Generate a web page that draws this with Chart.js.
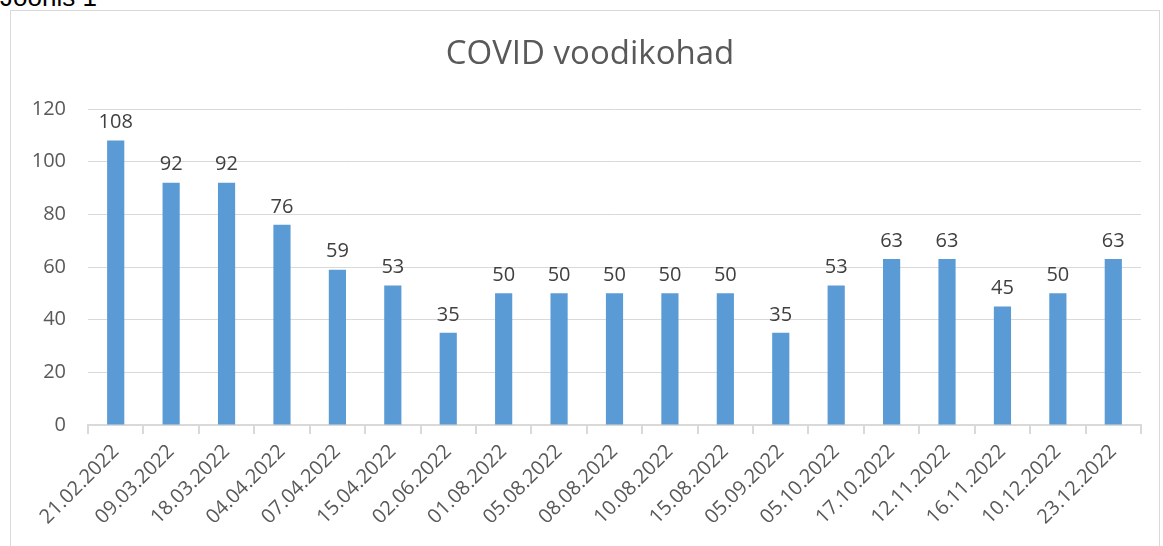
<!DOCTYPE html>
<html>
<head>
	<meta charset="UTF-8">
	<script src="https://cdn.jsdelivr.net/npm/chart.js@4.4.0/dist/chart.umd.min.js"></script>
	<style>
		body { margin: 0; background: #fff; overflow: hidden; }
		#caption { position: absolute; left: 0; top: -18px; font: 26px "Liberation Sans", Arial, sans-serif; color: #000; }
		#box { position: absolute; left: 10px; top: 10px; width: 1150px; height: 560px; border: 1px solid #d9d9d9; box-sizing: border-box; }
		#wrap { position: absolute; left: 11px; top: 11px; width: 1148px; height: 535px; }
	</style>
</head>
<body>
	<div id="caption">Joonis 1</div>
	<div id="box"></div>
	<div id="wrap"><canvas id="bedChart"></canvas></div>
	<script>
		var dates = ['21.02.2022', '09.03.2022', '18.03.2022', '04.04.2022', '07.04.2022', '15.04.2022',
			'02.06.2022', '01.08.2022', '05.08.2022', '08.08.2022', '10.08.2022', '15.08.2022',
			'05.09.2022', '05.10.2022', '17.10.2022', '12.11.2022', '16.11.2022', '10.12.2022', '23.12.2022'];
		var beds = [108, 92, 92, 76, 59, 53, 35, 50, 50, 50, 50, 50, 35, 53, 63, 63, 45, 50, 63];
		var yTicks = [0, 20, 40, 60, 80, 100, 120];
		var chartTitle = 'COVID voodikohad';

		var fontName = '"Open Sans", "Noto Sans", sans-serif';

		// numbers above the bars + title (Excel puts it a bit right of centre)
		var valueLabels = {
			id: 'valueLabels',
			afterDatasetsDraw: function (chart) {
				var ctx = chart.ctx;
				var meta = chart.getDatasetMeta(0);
				ctx.save();
				ctx.font = '20px ' + fontName;
				ctx.fillStyle = '#404040';
				ctx.textAlign = 'center';
				ctx.textBaseline = 'bottom';
				meta.data.forEach(function (bar, i) {
					ctx.fillText(String(beds[i]), bar.x, bar.y - 8);
				});

				ctx.font = '33px ' + fontName;
				ctx.fillStyle = '#595959';
				ctx.textBaseline = 'middle';
				ctx.fillText(chartTitle, chart.width / 2 + 5, 44);
				ctx.restore();
			}
		};

		new Chart(document.getElementById('bedChart'), {
			type: 'bar',
			data: {
				labels: dates,
				datasets: [{
					data: beds,
					backgroundColor: '#5b9bd5',
					borderWidth: 0,
					barPercentage: 0.31,
					categoryPercentage: 1
				}]
			},
			options: {
				responsive: true,
				maintainAspectRatio: false,
				animation: false,
				layout: { padding: { left: 0, right: 18, top: 98, bottom: 0 } },
				plugins: {
					legend: { display: false },
					tooltip: { enabled: false },
					title: { display: false }
				},
				scales: {
					x: {
						offset: true,
						grid: {
							offset: true,
							drawOnChartArea: false,
							drawTicks: true,
							tickLength: 9,
							color: '#d9d9d9',
							lineWidth: 2
						},
						border: { color: '#d9d9d9', width: 2 },
						ticks: {
							color: '#595959',
							font: { family: fontName, size: 20 },
							minRotation: 45,
							maxRotation: 45,
							autoSkip: false,
							padding: 6
						},
						afterFit: function (scale) { scale.height = 121; }
					},
					y: {
						min: 0,
						max: 120,
						afterBuildTicks: function (scale) {
							scale.ticks = yTicks.map(function (v) { return { value: v }; });
						},
						grid: { color: '#d9d9d9', lineWidth: 1, drawTicks: false },
						border: { display: false },
						ticks: {
							color: '#595959',
							font: { family: fontName, size: 20 },
							padding: 22
						},
						afterFit: function (scale) { scale.width = 77; }
					}
				}
			},
			plugins: [valueLabels]
		});
	</script>
</body>
</html>
